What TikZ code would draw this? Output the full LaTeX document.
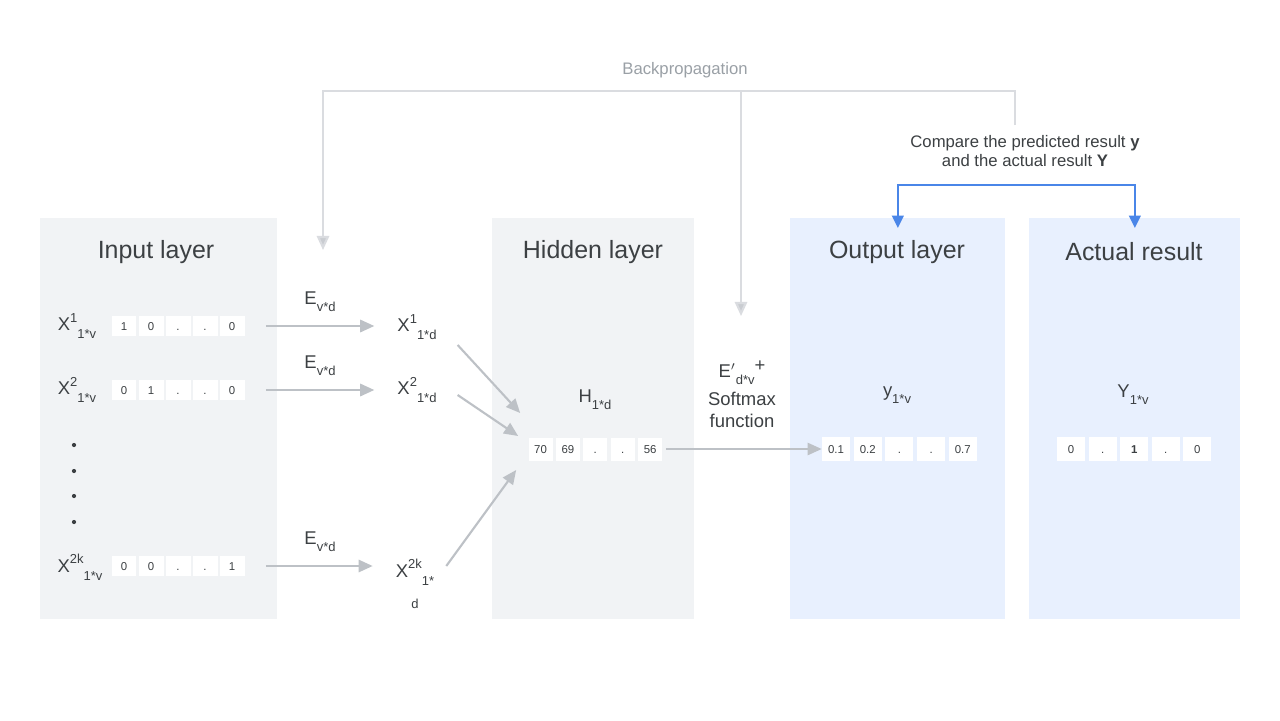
\documentclass[tikz,border=0pt]{standalone}
\usepackage{fontspec}
\setmainfont{Liberation Sans}
\usetikzlibrary{arrows.meta,calc}
\definecolor{panelgray}{HTML}{F1F3F5}
\definecolor{panelblue}{HTML}{E8F0FE}
\definecolor{arrowgray}{HTML}{BDC1C6}
\definecolor{backgray}{HTML}{DADCE0}
\definecolor{backtip}{HTML}{C9CCD1}
\definecolor{backtext}{HTML}{9AA0A6}
\definecolor{txt}{HTML}{3C4043}
\definecolor{cmpblue}{HTML}{4A86E8}
\newcommand{\smallidx}[1]{{\fontsize{7.4}{9}\selectfont #1}}
\newcommand{\vlab}[3]{#1\raisebox{5pt}{\smallidx{#2}}\raisebox{-4.5pt}{\smallidx{#3}}}
\newcommand{\slab}[2]{#1\raisebox{-4pt}{\smallidx{#2}}}
\begin{document}
\begin{tikzpicture}[x=0.02cm, y=-0.02cm, every node/.style={text=txt, inner sep=1pt},
  panel/.style={anchor=north west, inner sep=0pt, minimum height=8.02cm},
  title/.style={font=\fontsize{14.2}{17}\selectfont},
  lbl/.style={font=\fontsize{10.5}{12.5}\selectfont},
  cell/.style={fill=white, minimum width=0.5cm, minimum height=0.4cm, inner sep=0pt, text height=4.7pt, text depth=0pt, font=\fontsize{6.5}{8}\selectfont},
  flow/.style={draw=arrowgray, line width=1.2pt, -{Triangle[length=8pt,width=7pt,fill=arrowgray]}},
  back/.style={draw=backgray, line width=1.2pt, -{Triangle[length=8pt,width=7pt,fill=backtip]}},
  cmpline/.style={draw=cmpblue, line width=1.5pt, {Triangle[length=7pt,width=6.5pt]}-{Triangle[length=7pt,width=6.5pt]}}]
\useasboundingbox (0,0) rectangle (1280,720);
\fill[white] (0,0) rectangle (1280,720);
% panels
\node[panel, fill=panelgray, minimum width=4.74cm] (inP) at (40,218) {};
\node[panel, fill=panelgray, minimum width=4.04cm] (hidP) at (492,218) {};
\node[panel, fill=panelblue, minimum width=4.3cm] (outP) at (790,218) {};
\node[panel, fill=panelblue, minimum width=4.22cm] (actP) at (1029,218) {};
\node[title] (inT) at (156,252) {Input layer};
\node[title] (hidT) at (593,252) {Hidden layer};
\node[title] (outT) at (897,252) {Output layer};
\node[title] (actT) at (1134,252) {Actual result};
% input layer
\node[lbl] (inLA) at (77,326) {\vlab{X}{1}{1*v}};
\node[lbl] (inLB) at (77,390) {\vlab{X}{2}{1*v}};
\node[lbl] (inLC) at (80,567) {\vlab{X}{2k}{1*v}};
\foreach \v [count=\i] in {1,0,.,.,0}
  \node[cell] (inA\i) at ({124+27*(\i-1)},326) {\v};
\foreach \v [count=\i] in {0,1,.,.,0}
  \node[cell] (inB\i) at ({124+27*(\i-1)},390) {\v};
\foreach \v [count=\i] in {0,0,.,.,1}
  \node[cell] (inC\i) at ({124+27*(\i-1)},566) {\v};
\foreach \y [count=\i] in {445,471,496,522}
  \node[circle, fill=txt, inner sep=0pt, minimum size=2.4pt] (dot\i) at (74,\y) {};
% embeddings
\node[lbl] (xA) at (417,327) {\vlab{X}{1}{1*d}};
\node[lbl] (xB) at (417,390) {\vlab{X}{2}{1*d}};
\node[lbl, align=center] (xC) at (415,584) {\vlab{X}{2k}{1*}\\[5pt]\smallidx{d}};
\node[lbl] (eA) at (320,302) {\slab{E}{v*d}};
\node[lbl] (eB) at (320,366) {\slab{E}{v*d}};
\node[lbl] (eC) at (320,542) {\slab{E}{v*d}};
\draw[flow, shorten <=12pt, shorten >=12pt] (inA5.east) -- (inA5.east -| xA.west);
\draw[flow, shorten <=12pt, shorten >=12pt] (inB5.east) -- (inB5.east -| xB.west);
\draw[flow, shorten <=12pt, shorten >=12pt] (inC5.east) -- (inC5.east -| xC.west);
% hidden layer
\node[lbl] (hH) at (595,400) {\slab{H}{1*d}};
\foreach \v [count=\i] in {70,69,.,.,56}
  \node[cell, minimum width=0.48cm, minimum height=0.46cm] (hA\i) at ({540.5+27.4*(\i-1)},449) {\v};
\coordinate (hinA) at ($(hA1.west)+(-8,-36)$);
\coordinate (hinB) at ($(hA1.west)+(-10,-13)$);
\coordinate (hinC) at ($(hA1.west)+(-12,21)$);
\draw[flow] ([shift={(19,18)}]xA.east) -- (hinA);
\draw[flow] ([shift={(19,5)}]xB.east) -- (hinB);
\draw[flow] ([shift={(10,-18)}]xC.east) -- (hinC);
\node[lbl, align=center] (soft) at (742,394) {E$'$\raisebox{-4pt}{\smallidx{d*v}}\raisebox{3.5pt}{+}\\[3.5pt]Softmax\\function};
% output and actual result
\node[lbl] (yP) at (897,395) {\slab{y}{1*v}};
\foreach \v [count=\i] in {0.1,0.2,.,.,0.7}
  \node[cell, minimum width=0.56cm, minimum height=0.48cm] (oA\i) at ({836+31.7*(\i-1)},449) {\v};
\node[lbl] (yA) at (1133,395) {\slab{Y}{1*v}};
\foreach \v [count=\i] in {0,.,\textbf{1},.,0}
  \node[cell, minimum width=0.56cm, minimum height=0.48cm] (aA\i) at ({1071+31.6*(\i-1)},449) {\v};
\draw[flow, line width=1pt, shorten <=2pt] (hA5.east) -- (oA1.west);
% backpropagation
\node[font=\fontsize{9.5}{11}\selectfont, text=backtext] (bp) at (685,70) {Backpropagation};
\coordinate (bpS) at (1015,125);
\coordinate (bpC) at (741,91);
\coordinate (bpL) at (323,250);
\coordinate (bpM) at (741,316);
\draw[back] (bpS) |- (bpC) -| (bpL);
\draw[back] (bpC) -- (bpM);
\node[font=\fontsize{9.5}{11}\selectfont, align=center] (cmp) at (1025,151) {Compare the predicted result \textbf{y}\\and the actual result \textbf{Y}};
\draw[cmpline] ([yshift=-5.7pt]outP.north) -- ++(0,-43) -| ([yshift=-5.7pt]actP.north);
\end{tikzpicture}
\end{document}
